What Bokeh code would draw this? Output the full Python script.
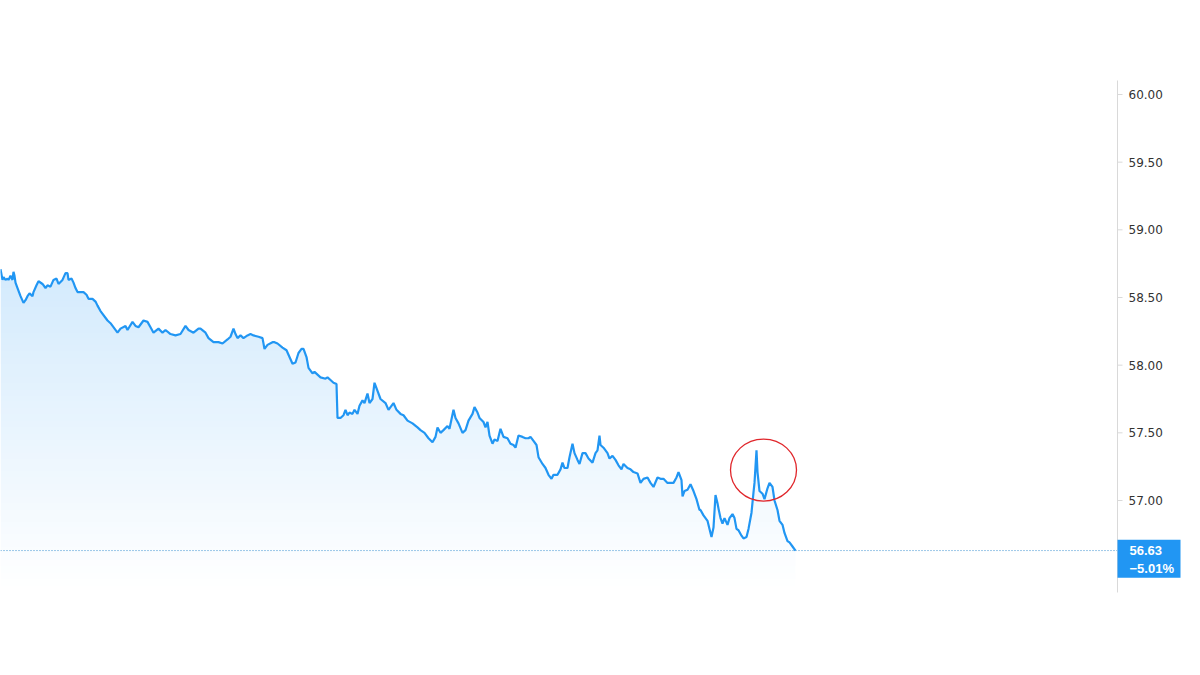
import numpy as np
from bokeh.plotting import figure
from bokeh.models import Range1d
from bokeh.core.properties import value
from bokeh.embed import file_html
from bokeh.resources import INLINE

# time step index (intraday ticks) and price values
t = [0, 2, 3, 5, 7, 8, 10, 12, 13, 14, 15, 17, 20, 23, 25, 27, 29, 32, 33, 36,
     38, 42, 45, 47, 50, 53, 56, 58, 62, 65, 67, 68, 71, 73, 75, 77, 80, 83, 86, 88,
     92, 95, 97, 100, 107, 110, 117, 120, 125, 127, 132, 135, 138, 143, 147, 150, 153, 158, 162, 165,
     170, 175, 180, 185, 188, 193, 198, 200, 205, 208, 213, 218, 222, 227, 230, 233, 235, 237, 240, 243,
     247, 250, 253, 258, 262, 264, 267, 272, 274, 277, 282, 286, 289, 292, 295, 298, 301, 303, 306, 308,
     312, 314, 317, 320, 325, 327, 330, 333, 336, 337, 340, 343, 345, 347, 349, 352, 354, 357, 359, 362,
     364, 367, 369, 372, 374, 377, 380, 385, 388, 393, 396, 400, 403, 407, 412, 417, 420, 424, 428, 432,
     435, 437, 440, 443, 447, 449, 453, 455, 458, 462, 465, 468, 472, 474, 477, 479, 483, 485, 487, 489,
     492, 494, 497, 499, 500, 503, 507, 510, 513, 515, 518, 522, 525, 528, 530, 533, 536, 538, 542, 545,
     548, 551, 553, 557, 560, 562, 564, 567, 569, 572, 574, 577, 579, 582, 585, 588, 592, 595, 597, 599,
     600, 603, 607, 609, 612, 615, 618, 621, 623, 627, 630, 633, 637, 640, 643, 647, 650, 653, 657, 660,
     663, 667, 670, 673, 676, 678, 681, 682, 684, 687, 690, 693, 696, 699, 700, 703, 705, 707, 709, 711,
     713, 715, 717, 718, 720, 722, 724, 727, 729, 732, 734, 736, 738, 741, 743, 746, 748, 751, 753, 754,
     756, 757, 759, 762, 764, 767, 769, 772, 774, 777, 779, 782, 784, 787, 789, 792, 795]

price = [58.71, 58.63, 58.65, 58.63, 58.64, 58.63, 58.66, 58.63, 58.69, 58.66, 58.61, 58.57, 58.51, 58.46, 58.48, 58.51, 58.53, 58.51, 58.54, 58.59,
         58.62, 58.60, 58.57, 58.59, 58.58, 58.63, 58.64, 58.60, 58.63, 58.68, 58.68, 58.63, 58.64, 58.61, 58.57, 58.54, 58.54, 58.54, 58.52, 58.49,
         58.49, 58.47, 58.44, 58.40, 58.33, 58.31, 58.24, 58.27, 58.29, 58.26, 58.32, 58.29, 58.28, 58.33, 58.32, 58.28, 58.24, 58.27, 58.24, 58.26,
         58.23, 58.22, 58.23, 58.29, 58.26, 58.24, 58.27, 58.27, 58.24, 58.20, 58.17, 58.17, 58.16, 58.19, 58.21, 58.27, 58.23, 58.20, 58.22, 58.20,
         58.22, 58.23, 58.22, 58.21, 58.20, 58.12, 58.15, 58.17, 58.17, 58.16, 58.13, 58.11, 58.06, 58.01, 58.02, 58.09, 58.12, 58.12, 58.06, 57.98,
         57.94, 57.95, 57.93, 57.91, 57.90, 57.91, 57.89, 57.87, 57.86, 57.61, 57.61, 57.63, 57.67, 57.63, 57.65, 57.64, 57.67, 57.64, 57.70, 57.74,
         57.72, 57.79, 57.72, 57.75, 57.87, 57.81, 57.75, 57.72, 57.67, 57.72, 57.67, 57.64, 57.63, 57.59, 57.57, 57.54, 57.52, 57.50, 57.46, 57.43,
         57.47, 57.54, 57.50, 57.52, 57.55, 57.53, 57.67, 57.61, 57.57, 57.50, 57.52, 57.59, 57.64, 57.69, 57.65, 57.61, 57.58, 57.54, 57.58, 57.48,
         57.42, 57.45, 57.44, 57.50, 57.53, 57.47, 57.46, 57.42, 57.41, 57.39, 57.48, 57.47, 57.46, 57.46, 57.47, 57.44, 57.41, 57.32, 57.27, 57.24,
         57.19, 57.16, 57.19, 57.19, 57.23, 57.28, 57.24, 57.24, 57.32, 57.42, 57.35, 57.30, 57.27, 57.35, 57.35, 57.31, 57.28, 57.35, 57.37, 57.48,
         57.41, 57.39, 57.35, 57.31, 57.33, 57.30, 57.26, 57.23, 57.27, 57.24, 57.23, 57.21, 57.20, 57.13, 57.16, 57.17, 57.13, 57.10, 57.17, 57.16,
         57.16, 57.13, 57.13, 57.13, 57.17, 57.21, 57.15, 57.03, 57.07, 57.08, 57.12, 57.07, 57.01, 56.93, 56.93, 56.89, 56.87, 56.85, 56.79, 56.73,
         56.80, 57.04, 56.98, 56.94, 56.87, 56.83, 56.87, 56.82, 56.87, 56.90, 56.87, 56.79, 56.78, 56.74, 56.72, 56.73, 56.79, 56.91, 57.06, 57.13,
         57.37, 57.21, 57.07, 57.05, 57.01, 57.09, 57.13, 57.10, 57.00, 56.93, 56.85, 56.82, 56.76, 56.70, 56.69, 56.66, 56.63]

last_price = 56.63
change_pct = -5.01
y_ticks = [57.0, 57.5, 58.0, 58.5, 59.0, 59.5, 60.0]
highlight_t = 763
highlight_price = 57.225

LINE_BLUE = "#2196F3"
W, H = 1184, 659

p = figure(width=W, height=H, output_backend="svg", toolbar_location=None,
           x_range=Range1d(0, W), y_range=Range1d(55.8251, 60.6946),
           x_axis_location=None, y_axis_location=None,
           min_border_left=0, min_border_right=0, min_border_top=0, min_border_bottom=0)
p.outline_line_color = None
p.grid.visible = False
p.background_fill_color = "white"
p.border_fill_color = "white"

# vertical scale: data units per screen pixel
upp = (p.y_range.end - p.y_range.start) / H

# price-scale geometry (screen pixels)
axis_x = 1117
axis_top = 60.0 + 14 * upp
axis_bottom = 57.0 - 92 * upp

# vertical gradient fill under the line
n = 200
alpha = np.linspace(0.0, 0.2, n)
rgba = np.zeros((n, 1, 4), dtype=np.uint8)
rgba[:, 0, 0] = 33
rgba[:, 0, 1] = 150
rgba[:, 0, 2] = 243
rgba[:, 0, 3] = (alpha * 255).astype(np.uint8)
img = rgba.view(dtype=np.uint32).reshape((n, 1))
top = max(price)
p.image_rgba(image=[img], x=t[0], y=axis_bottom, dw=t[-1] - t[0], dh=top - axis_bottom)

# white mask above the line
p.patch(x=t + [t[-1], t[0]], y=price + [p.y_range.end, p.y_range.end],
        fill_color="white", line_color="white", line_width=1.5)

# last price dotted guide
p.segment(x0=[t[0]], y0=[last_price], x1=[axis_x], y1=[last_price],
          line_color="#3b8fd0", line_width=1, line_dash="1 2")

p.line(t, price, line_color=LINE_BLUE, line_width=2.2)

p.ellipse(x=[highlight_t], y=[highlight_price], width=66, height=62,
          width_units="screen", height_units="screen",
          fill_color=None, line_color="#e0262b", line_width=1.3)

# right price scale
p.segment(x0=[axis_x], y0=[axis_bottom], x1=[axis_x], y1=[axis_top],
          line_color="#d9d9d9", line_width=1)
p.segment(x0=[axis_x] * len(y_ticks), y0=y_ticks, x1=[axis_x + 5] * len(y_ticks), y1=y_ticks,
          line_color="#d9d9d9", line_width=1)
p.text(x=[axis_x + 11] * len(y_ticks), y=y_ticks, text=[f"{v:.2f}" for v in y_ticks],
       text_font=value("DejaVu Sans"), text_font_size="12px", text_color="#333333",
       text_align="left", text_baseline="middle")

# last price tag
p.rect(x=[axis_x + 31.5], y=[last_price - 8.3 * upp], width=63, height=38,
       width_units="screen", height_units="screen",
       fill_color=LINE_BLUE, line_color=None)
p.text(x=[axis_x + 12, axis_x + 12], y=[last_price, last_price - 18 * upp],
       text=[f"{last_price:.2f}", f"\u2212{abs(change_pct):.2f}%"],
       text_font=value("Liberation Sans"), text_font_style="bold", text_font_size="13px",
       text_color="white", text_align="left", text_baseline="middle")

open("out.html", "w").write(file_html(p, INLINE))
